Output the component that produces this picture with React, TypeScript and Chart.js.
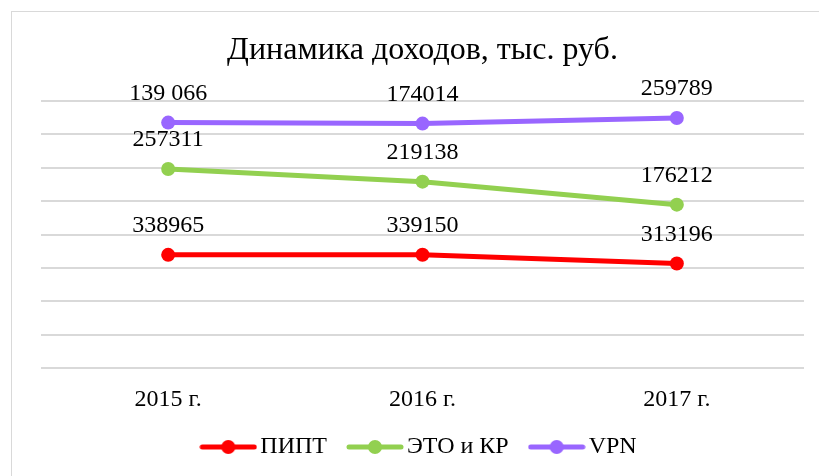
import React, { useEffect, useRef } from "react";
import { Chart, registerables } from "chart.js";

Chart.register(...registerables);

const categories = ["2015 г.", "2016 г.", "2017 г."];
const piptValues = [338965, 339150, 313196];
const etoValues = [257311, 219138, 176212];
const vpnValues = [139066, 174014, 259789];
const piptLabels = ["338965", "339150", "313196"];
const etoLabels = ["257311", "219138", "176212"];
const vpnLabels = ["139 066", "174014", "259789"];
const seriesNames = ["ПИПТ", "ЭТО и КР", "VPN"];
const seriesColors = ["#FF0000", "#92D050", "#9966FF"];
const yMin = 0;
const yMax = 800000;
const yStep = 100000;

const FONT = "'Liberation Serif', 'Times New Roman', serif";

function makeLegendImage(color: string): HTMLCanvasElement {
  const c = document.createElement("canvas");
  c.width = 58;
  c.height = 16;
  const ctx = c.getContext("2d")!;
  ctx.strokeStyle = color;
  ctx.lineWidth = 5;
  ctx.lineCap = "round";
  ctx.beginPath();
  ctx.moveTo(3, 8);
  ctx.lineTo(55, 8);
  ctx.stroke();
  ctx.fillStyle = color;
  ctx.beginPath();
  ctx.arc(29, 8, 7, 0, Math.PI * 2);
  ctx.fill();
  return c;
}

export default function App() {
  const ref = useRef<HTMLCanvasElement | null>(null);

  useEffect(() => {
    document.body.style.margin = "0";
    const labelSets = [piptLabels, etoLabels, vpnLabels];
    const valueSets = [piptValues, etoValues, vpnValues];
    const images = seriesColors.map((c) => makeLegendImage(c));

    const dataLabelPlugin = {
      id: "dataLabels",
      afterDatasetsDraw(chart: any) {
        const ctx = chart.ctx;
        ctx.save();
        ctx.font = `24px ${FONT}`;
        ctx.fillStyle = "#000000";
        ctx.textAlign = "center";
        ctx.textBaseline = "middle";
        chart.data.datasets.forEach((_ds: any, i: number) => {
          const meta = chart.getDatasetMeta(i);
          meta.data.forEach((pt: any, j: number) => {
            ctx.fillText(labelSets[i][j], pt.x, pt.y - 29);
          });
        });
        ctx.restore();
      },
    };

    const chart = new Chart(ref.current!, {
      type: "line",
      data: {
        labels: categories,
        datasets: valueSets.map((vals, i) => ({
          label: seriesNames[i],
          data: vals,
          borderColor: seriesColors[i],
          backgroundColor: seriesColors[i],
          borderWidth: 5,
          pointRadius: 7,
          pointHoverRadius: 7,
          pointBorderWidth: 0,
          pointBackgroundColor: seriesColors[i],
          fill: false,
          tension: 0,
        })),
      },
      options: {
        animation: false,
        responsive: false,
        layout: { padding: { left: 41, right: 15, top: 0, bottom: 7 } },
        plugins: {
          title: {
            display: true,
            text: "Динамика доходов, тыс. руб.",
            color: "#000000",
            font: { family: FONT, size: 32, weight: "normal" },
            padding: { top: 31, bottom: 31.6 },
          },
          legend: {
            position: "bottom",
            labels: {
              color: "#000000",
              font: { family: FONT, size: 24 },
              usePointStyle: true,
              pointStyleWidth: 40,
              padding: 28,
              generateLabels: (ch: any) =>
                ch.data.datasets.map((ds: any, i: number) => ({
                  text: ds.label,
                  fillStyle: seriesColors[i],
                  strokeStyle: seriesColors[i],
                  lineWidth: 0,
                  pointStyle: images[i],
                  hidden: false,
                  datasetIndex: i,
                  fontColor: "#000000",
                })),
            },
          },
          tooltip: { enabled: false },
        },
        scales: {
          x: {
            offset: true,
            grid: { display: false, drawTicks: false },
            border: { display: false },
            ticks: {
              color: "#000000",
              font: { family: FONT, size: 24 },
              padding: 17.6,
            },
            afterFit: (scale: any) => {
              scale.height = 39;
            },
          },
          y: {
            stacked: true,
            min: yMin,
            max: yMax,
            ticks: { display: false, stepSize: yStep },
            grid: { color: "#D9D9D9", lineWidth: 2, drawTicks: false },
            border: { display: false },
            afterFit: (scale: any) => {
              scale.width = 0;
            },
          },
        },
      },
      plugins: [dataLabelPlugin],
    });
    return () => chart.destroy();
  }, []);

  return (
    <div style={{ position: "relative", width: 819, height: 476, overflow: "hidden", background: "#fff" }}>
      <div
        style={{
          position: "absolute",
          left: 11,
          top: 11,
          width: 830,
          height: 490,
          borderLeft: "1px solid #D9D9D9",
          borderTop: "1px solid #D9D9D9",
        }}
      />
      <canvas ref={ref} width={819} height={476} style={{ position: "absolute", left: 0, top: 0 }} />
    </div>
  );
}
